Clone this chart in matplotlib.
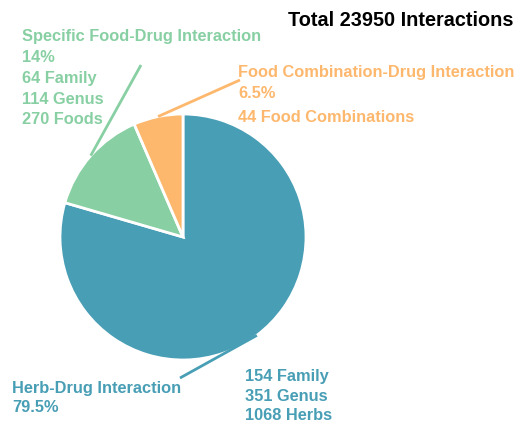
import numpy as np
import matplotlib
matplotlib.use("Agg")
import matplotlib.pyplot as plt

plt.rcParams['font.family'] = ['Liberation Sans', 'DejaVu Sans']

# Interaction categories and their share of the total (percent)
categories = ["Herb-Drug Interaction",
              "Specific Food-Drug Interaction",
              "Food Combination-Drug Interaction"]
shares = [79.5, 14.0, 6.5]
share_labels = ["79.5%", "14%", "6.5%"]
details = [["154 Family", "351 Genus", "1068 Herbs"],
           ["64 Family", "114 Genus", "270 Foods"],
           ["44 Food Combinations"]]
total = 23950

colors = ["#489eb5", "#88d0a3", "#fdb86e"]

W, H = 525, 422
fig = plt.figure(figsize=(W / 100, H / 100), dpi=100)
ax = fig.add_axes([0, 0, 1, 1])
ax.set_xlim(0, W)
ax.set_ylim(0, H)
ax.set_aspect("equal")
ax.axis("off")

# pixel-style coordinates: y measured from the top
def py(y):
    return H - y

cx, cy, r = 183, py(237), 123
wedges, _ = ax.pie(shares, colors=colors, startangle=90, counterclock=False,
                   center=(cx, cy), radius=r,
                   wedgeprops=dict(edgecolor="white", linewidth=2))
ax.set_xlim(0, W)
ax.set_ylim(0, H)

# leader lines from the middle of each wedge's arc to its label
line_ends = [(180, 378), (141, 65), (240, 80)]
for w, (ex, ey), c in zip(wedges, line_ends, colors):
    ang = np.deg2rad((w.theta1 + w.theta2) / 2)
    sx, sy = cx + r * np.cos(ang), cy + r * np.sin(ang)
    ax.plot([sx, ex], [sy, py(ey)], color=c, lw=2, solid_capstyle="butt")

fs = 11.8
txt = dict(fontsize=fs, fontweight="bold", va="center", ha="left")

# Specific food-drug block
green_lines = [categories[1], share_labels[1]] + details[1]
for i, s in enumerate(green_lines):
    ax.text(22, py(36 + 21 * i), s, color=colors[1], **txt)

# Food combination block
ax.text(238, py(73), categories[2], color=colors[2], **txt)
ax.text(238, py(94), share_labels[2], color=colors[2], **txt)
ax.text(238, py(117), details[2][0], color=colors[2], **txt)

# Herb-drug block
ax.text(12, py(388), categories[0], color=colors[0], **txt)
ax.text(12, py(408), share_labels[0], color=colors[0], **txt)
for i, s in enumerate(details[0]):
    ax.text(245, py(377 + 19.5 * i), s, color=colors[0], **txt)

ax.text(514, py(20), f"Total {total} Interactions", fontsize=14.3,
        fontweight="bold", color="black", ha="right", va="center")

fig.savefig("out.png", dpi=100)
